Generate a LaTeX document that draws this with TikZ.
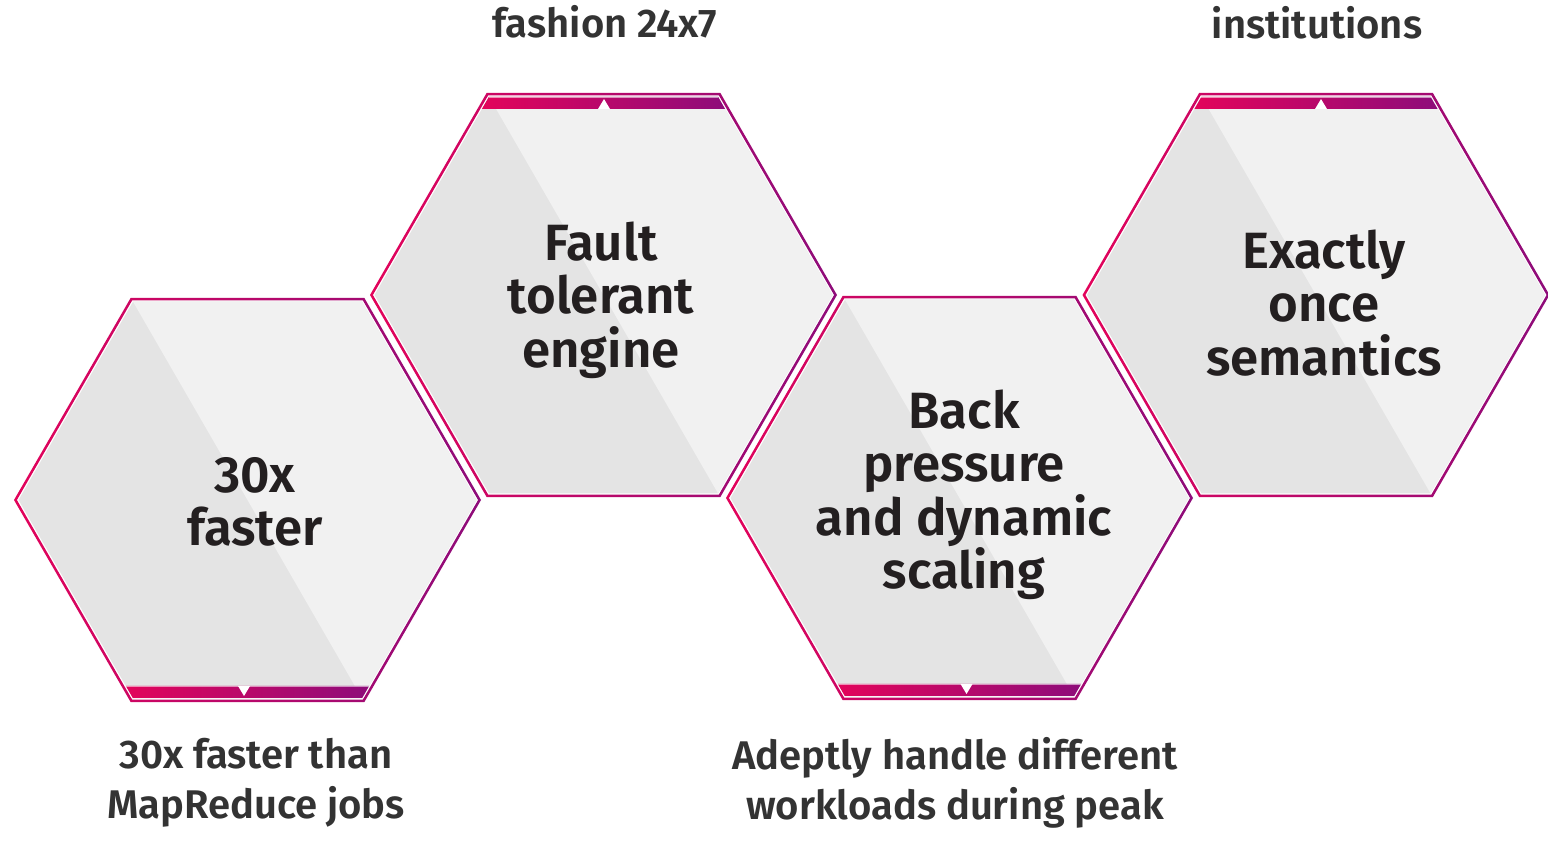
\documentclass[tikz,border=0pt]{standalone}
\usepackage{fontspec}
\setmainfont{Fira Sans}[BoldFont={Fira Sans SemiBold}]
\usetikzlibrary{positioning}

\definecolor{hexpink}{RGB}{226,4,91}
\definecolor{hexpurple}{RGB}{142,12,122}
\definecolor{hexdark}{RGB}{228,228,228}
\definecolor{hexlight}{RGB}{241,241,241}
\definecolor{inkdark}{RGB}{35,31,32}
\definecolor{notegray}{RGB}{51,51,51}

% one hexagon cell: #1,#2 centre, #3 bar side (-1 top, 1 bottom), #4 marker offset
\newcommand{\hexcell}[4]{%
  \begin{scope}[shift={(#1,#2)}]
    % outline, shaded pink to purple
    \shade[left color=hexpink, right color=hexpurple, even odd rule]
      (0:233.5) \foreach \a in {60,120,...,300} {-- (\a:233.5)} -- cycle
      (0:230.6) \foreach \a in {60,120,...,300} {-- (\a:230.6)} -- cycle;
    % two-tone face
    \fill[hexdark] (0:229) \foreach \a in {60,120,...,300} {-- (\a:229)} -- cycle;
    \fill[hexlight] (240:229) -- (300:229) -- (0:229) -- (60:229) -- cycle;
    % bar with marker
    \shade[left color=hexpink, right color=hexpurple]
      (-114.7,#3*198) -- (114.7,#3*198) -- (121.6,#3*186) -- (-121.6,#3*186) -- cycle;
    \ifnum#3<0
      \draw[white, opacity=.55, line width=.6pt] (-114.7,-197.6) -- (114.7,-197.6);
    \else
      \draw[white, opacity=.55, line width=.6pt] (-121.6,186.4) -- (121.6,186.4);
    \fi
    \fill[white] (#4-6,#3*186) -- (#4+6,#3*186) -- (#4,#3*196) -- cycle;
  \end{scope}}

\begin{document}
\begin{tikzpicture}[
    x=0.5pt, y=-0.5pt,
    cell/.style={font=\bfseries\fontsize{25.5}{26.75}\selectfont, text=inkdark, align=center, inner sep=0pt},
    note/.style={font=\bfseries\fontsize{20}{25}\selectfont, text=notegray, align=center, inner sep=0pt}
  ]
  \clip (0,0) rectangle (1548,849);

  \hexcell{247.5}{500}{1}{-3.5}
  \hexcell{603.5}{295}{-1}{0.5}
  \hexcell{959.5}{498}{1}{7}
  \hexcell{1316}{295}{-1}{5}

  \node[cell] (fast) at (255,502) {30x\\faster};
  \node[cell] (fault) at (601,300) {Fault\\tolerant\\engine};
  \node[cell] (backp) at (964,495) {Back\\pressure\\and dynamic\\scaling};
  \node[cell] (exact) at (1324,303) {Exactly\\once\\semantics};

  \node[note, anchor=base] (faultnote) at (605,38) {fashion 24x7};
  \node[note, anchor=base] (exactnote) at (1317,39) {institutions};
  \node[note] (fastnote) at (256,783) {30x faster than\\MapReduce jobs};
  \node[note] (backpnote) at (955,783) {Adeptly handle different\\workloads during peak};
\end{tikzpicture}
\end{document}
